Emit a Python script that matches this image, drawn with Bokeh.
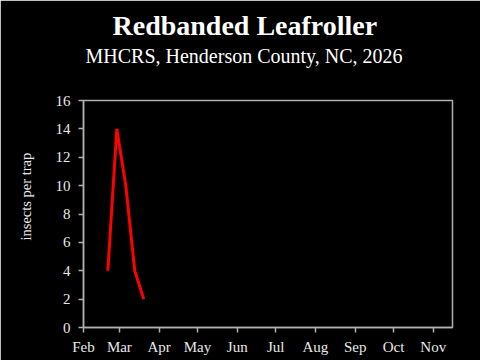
import pandas as pd
from bokeh.plotting import figure
from bokeh.models import FixedTicker, DatetimeTickFormatter, Title, Range1d
from bokeh.embed import file_html
from bokeh.resources import INLINE

title = "Redbanded Leafroller"
subtitle = "MHCRS, Henderson County, NC, 2026"
y_label = "insects per trap"

dates = ["2026-02-20", "2026-02-27", "2026-03-06", "2026-03-13", "2026-03-20"]
counts = [4, 14, 10, 4, 2]

month_ticks = ["2026-02-01", "2026-03-01", "2026-04-01", "2026-05-01", "2026-06-01",
               "2026-07-01", "2026-08-01", "2026-09-01", "2026-10-01", "2026-11-01"]
y_ticks = [0, 2, 4, 6, 8, 10, 12, 14, 16]

x = pd.to_datetime(dates)
tick_ms = [pd.Timestamp(d).value / 1e6 for d in month_ticks]

FONT = "Liberation Serif"
FG = "#e8e8e8"
AX = "#b0b0b0"

p = figure(width=480, height=360, x_axis_type="datetime",
           output_backend="svg", toolbar_location=None,
           x_range=Range1d(pd.Timestamp("2026-02-01"), pd.Timestamp("2026-11-16")),
           y_range=Range1d(0, 16),
           min_border_left=83, min_border_right=28, min_border_top=100, min_border_bottom=33)

p.background_fill_color = "black"
p.border_fill_color = "black"
p.outline_line_color = AX
p.outline_line_width = 1.5
p.xgrid.visible = False
p.ygrid.visible = False

p.line(x, counts, line_color="#ff0000", line_width=3)

p.xaxis.ticker = FixedTicker(ticks=tick_ms)
p.xaxis.formatter = DatetimeTickFormatter(years="%b", months="%b", days="%b", hours="%b")
p.yaxis.ticker = FixedTicker(ticks=y_ticks)

for ax in (p.xaxis[0], p.yaxis[0]):
    ax.axis_line_color = AX
    ax.axis_line_width = 1.5
    ax.major_tick_line_color = AX
    ax.major_tick_line_width = 1.5
    ax.major_tick_out = 5
    ax.major_tick_in = 0
    ax.minor_tick_line_color = None
    ax.major_label_text_color = FG
    ax.major_label_text_font = FONT
    ax.major_label_text_font_size = "15px"

p.xaxis.major_label_standoff = 6
p.yaxis.major_label_standoff = 8

p.add_layout(Title(text=y_label, align="left", offset=87, standoff=34, vertical_align="top",
                   text_font=FONT, text_font_size="14.5px", text_font_style="normal",
                   text_color=FG), "left")

p.add_layout(Title(text=subtitle, align="left", offset=2, standoff=67,
                   text_font=FONT, text_font_size="20px", text_font_style="normal",
                   text_color="white"), "above")
p.add_layout(Title(text=title, align="left", offset=29, standoff=-62,
                   text_font=FONT, text_font_size="28px", text_font_style="bold",
                   text_color="white"), "above")

open("out.html", "w").write(file_html(p, INLINE))
